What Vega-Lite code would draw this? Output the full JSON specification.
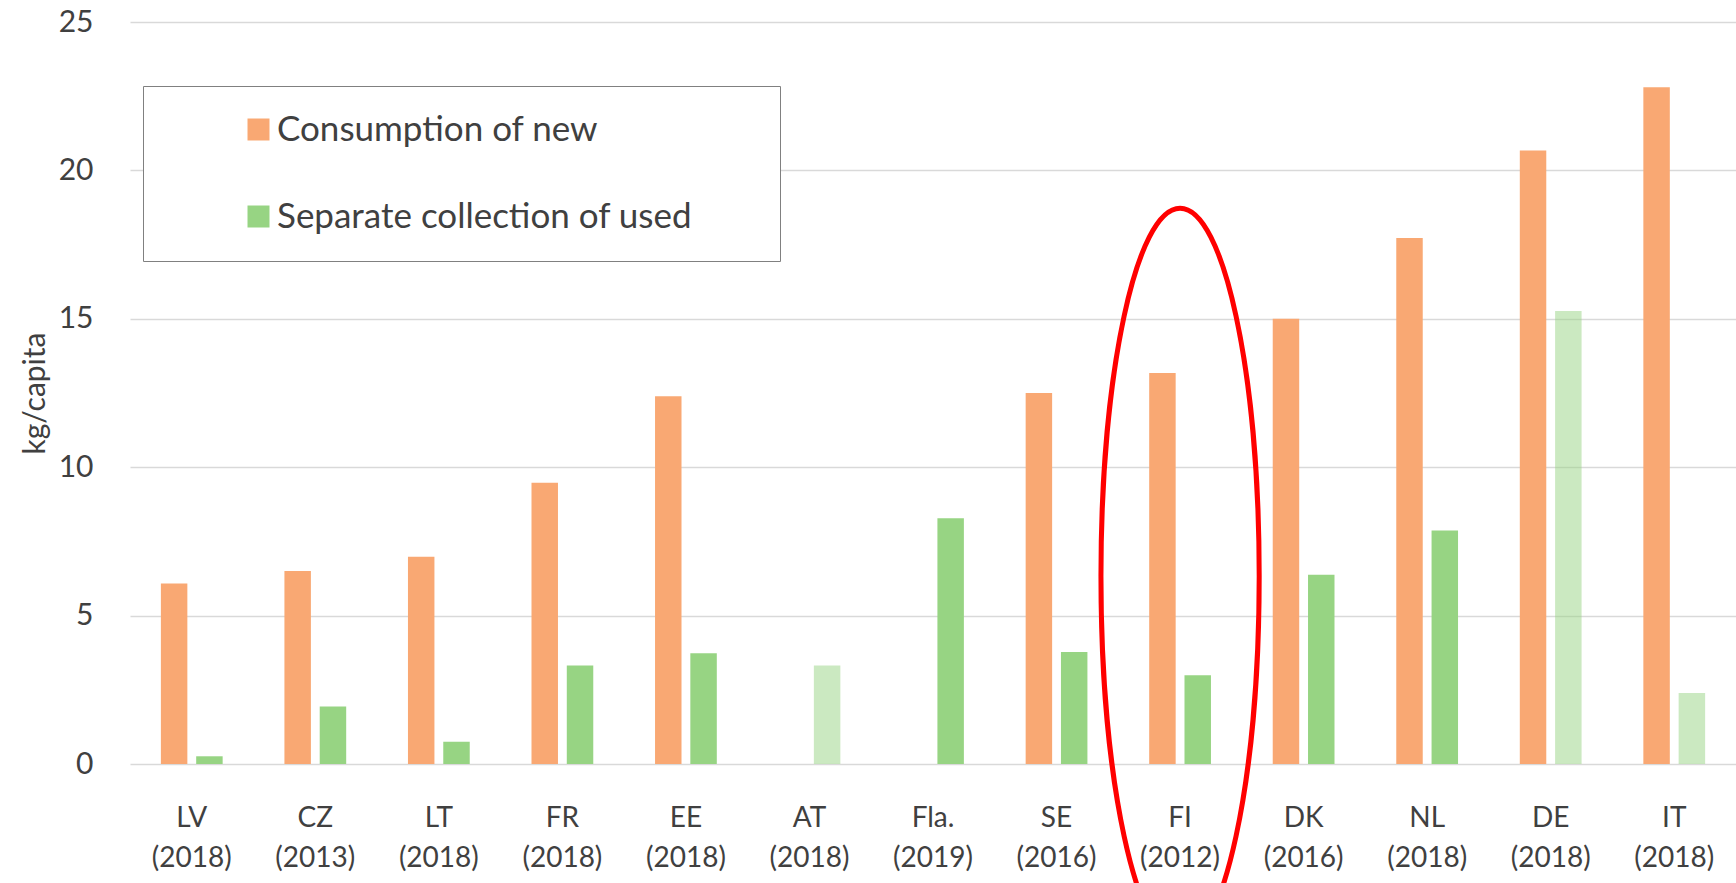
{
  "$schema": "https://vega.github.io/schema/vega-lite/v6.json",
  "width": 1606,
  "height": 742,
  "autosize": {"type": "none"},
  "padding": {"left": 130, "top": 22, "right": 0, "bottom": 119},
  "background": "white",
  "config": {
    "font": "Lato",
    "view": {"stroke": null}
  },
  "datasets": {
    "bars": [
      {"cat": "LV (2018)", "series": "Consumption of new", "value": 6.08, "hatched": false},
      {"cat": "LV (2018)", "series": "Separate collection of used", "value": 0.26, "hatched": false},
      {"cat": "CZ (2013)", "series": "Consumption of new", "value": 6.5, "hatched": false},
      {"cat": "CZ (2013)", "series": "Separate collection of used", "value": 1.94, "hatched": false},
      {"cat": "LT (2018)", "series": "Consumption of new", "value": 6.98, "hatched": false},
      {"cat": "LT (2018)", "series": "Separate collection of used", "value": 0.75, "hatched": false},
      {"cat": "FR (2018)", "series": "Consumption of new", "value": 9.48, "hatched": false},
      {"cat": "FR (2018)", "series": "Separate collection of used", "value": 3.32, "hatched": false},
      {"cat": "EE (2018)", "series": "Consumption of new", "value": 12.39, "hatched": false},
      {"cat": "EE (2018)", "series": "Separate collection of used", "value": 3.73, "hatched": false},
      {"cat": "AT (2018)", "series": "Separate collection of used", "value": 3.32, "hatched": true},
      {"cat": "Fla. (2019)", "series": "Separate collection of used", "value": 8.28, "hatched": false},
      {"cat": "SE (2016)", "series": "Consumption of new", "value": 12.5, "hatched": false},
      {"cat": "SE (2016)", "series": "Separate collection of used", "value": 3.77, "hatched": false},
      {"cat": "FI (2012)", "series": "Consumption of new", "value": 13.17, "hatched": false},
      {"cat": "FI (2012)", "series": "Separate collection of used", "value": 2.99, "hatched": false},
      {"cat": "DK (2016)", "series": "Consumption of new", "value": 15.0, "hatched": false},
      {"cat": "DK (2016)", "series": "Separate collection of used", "value": 6.38, "hatched": false},
      {"cat": "NL (2018)", "series": "Consumption of new", "value": 17.72, "hatched": false},
      {"cat": "NL (2018)", "series": "Separate collection of used", "value": 7.87, "hatched": false},
      {"cat": "DE (2018)", "series": "Consumption of new", "value": 20.67, "hatched": false},
      {"cat": "DE (2018)", "series": "Separate collection of used", "value": 15.26, "hatched": true},
      {"cat": "IT (2018)", "series": "Consumption of new", "value": 22.8, "hatched": false},
      {"cat": "IT (2018)", "series": "Separate collection of used", "value": 2.39, "hatched": true}
    ],
    "highlight": [
      {"cat": "FI (2012)", "value": 6.33}
    ]
  },
  "layer": [
    {
      "data": {"name": "bars"},
      "mark": {"type": "bar"},
      "encoding": {
        "x": {
          "field": "cat",
          "type": "nominal",
          "sort": null,
          "scale": {
            "domain": ["LV (2018)", "CZ (2013)", "LT (2018)", "FR (2018)", "EE (2018)", "AT (2018)", "Fla. (2019)", "SE (2016)", "FI (2012)", "DK (2016)", "NL (2018)", "DE (2018)", "IT (2018)"],
            "paddingInner": 0.5,
            "paddingOuter": 0.25
          },
          "axis": {
            "title": null,
            "labelAngle": 0,
            "labelExpr": "split(datum.label, ' ')",
            "labelFontSize": 28,
            "labelColor": "#404040",
            "labelLineHeight": 40,
            "labelPadding": 40,
            "ticks": false,
            "tickSize": 0,
            "domain": false,
            "grid": false
          }
        },
        "xOffset": {
          "field": "series",
          "type": "nominal",
          "scale": {"domain": ["Consumption of new", "Separate collection of used"], "paddingInner": 0.25}
        },
        "y": {
          "field": "value",
          "type": "quantitative",
          "scale": {"domain": [0, 25], "nice": false},
          "axis": {
            "title": "kg/capita",
            "titleFontSize": 30,
            "titleFontWeight": "normal",
            "titleColor": "#404040",
            "titlePadding": 8,
            "values": [0, 5, 10, 15, 20, 25],
            "labelFontSize": 30,
            "labelColor": "#404040",
            "labelPadding": 37,
            "ticks": false,
            "tickSize": 0,
            "domain": false,
            "grid": true,
            "gridColor": "#d9d9d9",
            "gridWidth": 1.5
          }
        },
        "color": {
          "field": "series",
          "type": "nominal",
          "scale": {"domain": ["Consumption of new", "Separate collection of used"], "range": ["#F9A873", "#97D483"]},
          "legend": {
            "title": null,
            "orient": "none",
            "legendX": 13,
            "legendY": 64,
            "direction": "vertical",
            "fillColor": "white",
            "strokeColor": "#808080",
            "padding": 26,
            "symbolType": "square",
            "symbolSize": 484,
            "symbolStrokeWidth": 0,
            "symbolOffset": 72,
            "labelOffset": 1,
            "labelFontSize": 35,
            "labelColor": "#404040",
            "labelLimit": 800,
            "labelExpr": "datum.label + '\u2800\u00a0\u2800'",
            "rowPadding": 51
          }
        },
        "opacity": {
          "condition": {"test": "datum.hatched", "value": 0.5},
          "value": 1
        }
      }
    },
    {
      "data": {"name": "highlight"},
      "mark": {
        "type": "point",
        "shape": "M -0.215,0 A 0.215,1 0 1,1 0.215,0 A 0.215,1 0 1,1 -0.215,0 Z",
        "size": 541696,
        "filled": false,
        "stroke": "#FF0000",
        "strokeWidth": 5,
        "opacity": 1
      },
      "encoding": {
        "x": {"field": "cat", "type": "nominal"},
        "y": {"field": "value", "type": "quantitative"}
      }
    }
  ]
}
